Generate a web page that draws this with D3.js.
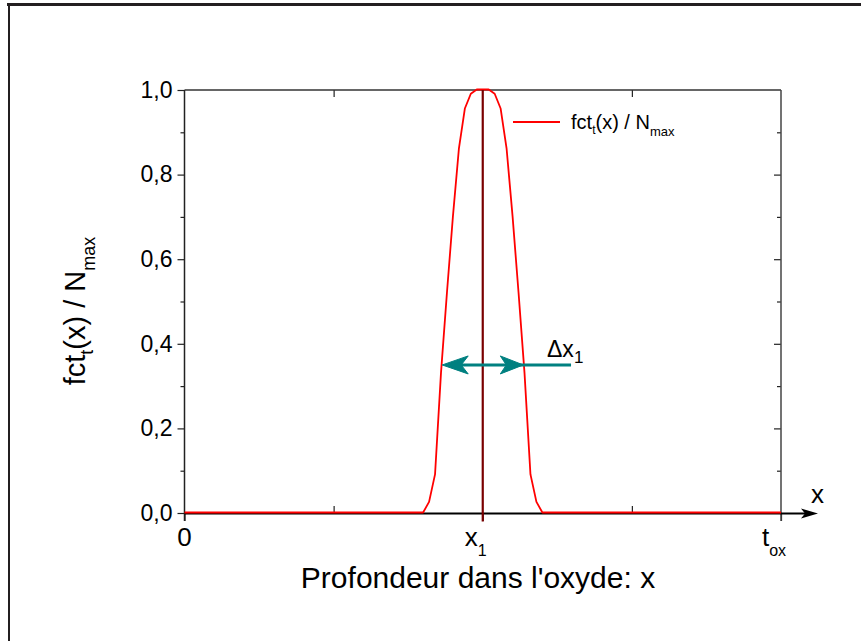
<!DOCTYPE html>
<html><head><meta charset="utf-8">
<script src="https://cdn.jsdelivr.net/npm/d3@7"></script>
<style>body{margin:0;background:#fff} svg{display:block} text{font-family:"Liberation Sans",Arial,sans-serif;fill:#000}</style>
</head><body><svg id="c" width="861" height="641"></svg>
<script>
// ---- data ----
const xVals = [0, 0.39, 0.40, 0.41, 0.42, 0.43, 0.44, 0.45, 0.46, 0.47, 0.48, 0.49, 0.50, 0.51, 0.52, 0.53, 0.54, 0.55, 0.56, 0.57, 0.58, 0.59, 0.60, 0.61, 1];
const yVals = [0, 0, 0, 0.025, 0.09, 0.33, 0.52, 0.70, 0.86, 0.955, 0.99, 1, 1, 1, 0.99, 0.955, 0.86, 0.70, 0.52, 0.33, 0.09, 0.025, 0, 0, 0];
const yMajorTicks = [0, 0.2, 0.4, 0.6, 0.8, 1.0];
const yMinorTicks = [0.1, 0.3, 0.5, 0.7, 0.9];
const xTickPos = [0, 0.5, 1];
const xTickMain = ["0", "x", "t"];
const xTickSub = ["", "1", "ox"];
const xInnerTicks = [0.25, 0.75];
const x1 = 0.5;
const deltaY = 0.35;
const deltaLeft = 0.432, deltaRight = 0.568, deltaEnd = 0.648;

const svg = d3.select("#c");
const W = 861, H = 641;
const x = d3.scaleLinear().domain([0, 1]).range([184.5, 781]);
const y = d3.scaleLinear().domain([0, 1]).range([513, 90]);
const axisCol = "#222";

// frame
svg.append("line").attr("x1", 7).attr("x2", W).attr("y1", 4.5).attr("y2", 4.5).attr("stroke", "#231f20").attr("stroke-width", 3);
svg.append("line").attr("x1", 9).attr("x2", 9).attr("y1", 3).attr("y2", H).attr("stroke", "#231f20").attr("stroke-width", 2);

const fmt = d => d3.format(".1f")(d).replace(".", ",");

// left axis
const gL = svg.append("g").attr("transform", `translate(${x(0)},0)`);
gL.call(d3.axisLeft(y).tickValues(yMajorTicks).tickSize(7).tickSizeOuter(0).tickPadding(5).tickFormat(fmt));
gL.append("g").call(d3.axisLeft(y).tickValues(yMinorTicks).tickSize(4).tickSizeOuter(0).tickFormat(""));
gL.selectAll(".domain").remove();
gL.selectAll("text").attr("font-size", 23).attr("font-family", '"Liberation Sans",Arial,sans-serif').attr("fill", "#000");
gL.selectAll("line").attr("stroke", axisCol).attr("stroke-width", 1.2);

// right axis (ticks inward)
const gR = svg.append("g").attr("transform", `translate(${x(1)},0)`);
gR.call(d3.axisLeft(y).tickValues(yMajorTicks.slice(1, -1)).tickSize(7).tickSizeOuter(0).tickFormat(""));
gR.append("g").call(d3.axisLeft(y).tickValues(yMinorTicks).tickSize(4).tickSizeOuter(0).tickFormat(""));
gR.selectAll(".domain").remove();
gR.selectAll("line").attr("stroke", axisCol).attr("stroke-width", 1.2);

// top axis (ticks inward)
const gT = svg.append("g").attr("transform", `translate(0,${y(1)})`);
gT.call(d3.axisBottom(x).tickValues(xInnerTicks).tickSize(7).tickSizeOuter(0).tickFormat(""));
gT.selectAll(".domain").remove();
gT.selectAll("line").attr("stroke", axisCol).attr("stroke-width", 1.2);

// bottom axis: inner ticks
const gB = svg.append("g").attr("transform", `translate(0,${y(0)})`);
gB.call(d3.axisTop(x).tickValues(xInnerTicks).tickSize(7).tickSizeOuter(0).tickFormat(""));
gB.append("g").call(d3.axisBottom(x).tickValues(xTickPos).tickSize(8).tickSizeOuter(0).tickFormat(""));
gB.selectAll(".domain").remove();
gB.selectAll("line").attr("stroke", axisCol).attr("stroke-width", 1.2);

// axis lines
svg.append("line").attr("x1", x(0)).attr("x2", x(1)).attr("y1", y(1)).attr("y2", y(1)).attr("stroke", "#333").attr("stroke-width", 1.5);
svg.append("line").attr("x1", x(0)).attr("x2", x(0)).attr("y1", y(1)).attr("y2", y(0) + 8).attr("stroke", axisCol).attr("stroke-width", 1.5);
svg.append("line").attr("x1", x(1)).attr("x2", x(1)).attr("y1", y(1)).attr("y2", y(0) + 8).attr("stroke", "#444").attr("stroke-width", 1.5);
svg.append("line").attr("x1", x(0)).attr("x2", 806).attr("y1", y(0) + 0.5).attr("y2", y(0) + 0.5).attr("stroke", "#000").attr("stroke-width", 2);
svg.append("path").attr("d", `M818,${y(0) + 0.5} L801,${y(0) - 4.5} L805,${y(0) + 0.5} L801,${y(0) + 5.5} Z`).attr("fill", "#000");

// x tick labels
xTickPos.forEach((p, i) => {
  const t = svg.append("text").attr("x", x(p) - (xTickSub[i] ? 7 : 0)).attr("y", 546).attr("font-size", 26).attr("text-anchor", "middle");
  t.append("tspan").text(xTickMain[i]);
  if (xTickSub[i]) t.append("tspan").attr("font-size", 16).attr("dy", 10).text(xTickSub[i]);
});

// curve
const line = d3.line().x((d, i) => x(xVals[i])).y(d => y(d) - 0.5);
svg.append("path").datum(yVals).attr("d", line).attr("fill", "none").attr("stroke", "#ff0000").attr("stroke-width", 1.8).attr("stroke-linejoin", "round");

// x1 vertical line
svg.append("line").attr("x1", x(x1)).attr("x2", x(x1)).attr("y1", y(1)).attr("y2", y(0) + 8.5).attr("stroke", "#7a0000").attr("stroke-width", 2.2);

// delta arrow
const ay = y(deltaY);
const teal = "#008080";
svg.append("line").attr("x1", x(deltaLeft) + 8).attr("x2", x(deltaEnd)).attr("y1", ay).attr("y2", ay).attr("stroke", teal).attr("stroke-width", 3);
const xl = x(deltaLeft), xr = x(deltaRight);
svg.append("path").attr("d", `M${xl},${ay} L${xl + 26},${ay - 9} L${xl + 19},${ay} L${xl + 26},${ay + 9} Z`).attr("fill", teal).attr("stroke", teal).attr("stroke-width", 1).attr("stroke-linejoin", "round");
svg.append("path").attr("d", `M${xr},${ay} L${xr - 23},${ay - 9} L${xr - 17},${ay} L${xr - 23},${ay + 9} Z`).attr("fill", teal).attr("stroke", teal).attr("stroke-width", 1).attr("stroke-linejoin", "round");
const dl = svg.append("text").attr("x", 547).attr("y", 357).attr("font-size", 23);
dl.append("tspan").text("Δx");
dl.append("tspan").attr("font-size", 17).attr("dy", 6).text("1");

// x arrow label
svg.append("text").attr("x", 811).attr("y", 503).attr("font-size", 26).text("x");

// legend
svg.append("line").attr("x1", 513).attr("x2", 560).attr("y1", 122).attr("y2", 122).attr("stroke", "#ff0000").attr("stroke-width", 1.8);
const lg = svg.append("text").attr("x", 571).attr("y", 129).attr("font-size", 20);
lg.append("tspan").text("fct");
lg.append("tspan").attr("font-size", 12).attr("dy", 5).text("t");
lg.append("tspan").attr("dy", -5).text("(x) / N");
lg.append("tspan").attr("font-size", 13).attr("dy", 7).text("max");

// axis titles
svg.append("text").attr("x", 478).attr("y", 588).attr("font-size", 30).attr("text-anchor", "middle").text("Profondeur dans l'oxyde: x");
const yt = svg.append("text").attr("transform", "translate(85,311) rotate(-90)").attr("font-size", 29).attr("text-anchor", "middle");
yt.append("tspan").text("fct");
yt.append("tspan").attr("font-size", 18).attr("dy", 8).text("t");
yt.append("tspan").attr("dy", -8).text("(x) / N");
yt.append("tspan").attr("font-size", 18).attr("dy", 10).text("max");
</script></body></html>
